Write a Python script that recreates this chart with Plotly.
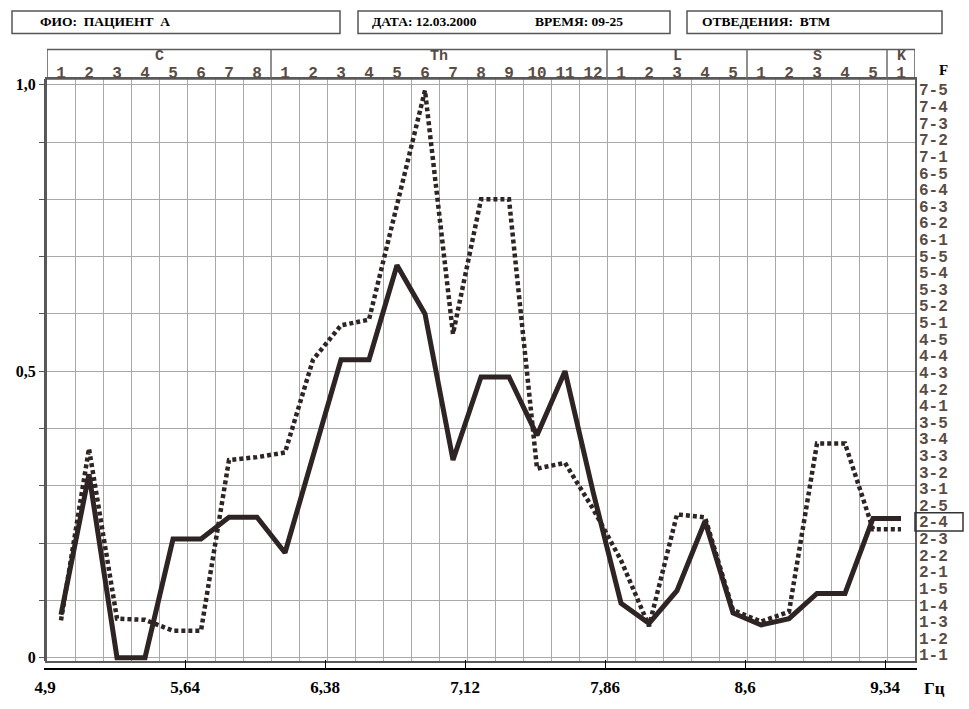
import plotly.graph_objects as go
import numpy as np

# ---------------- data ----------------
sections = ["C", "Th", "L", "S", "K"]
section_sizes = [8, 12, 5, 5, 1]
column_labels = [str(i) for n in section_sizes for i in range(1, n + 1)]

solid_values = [0.075, 0.32, 0.0, 0.0, 0.207, 0.207, 0.245, 0.245, 0.183, 0.35,
                0.52, 0.52, 0.685, 0.60, 0.345, 0.49, 0.49, 0.388, 0.50, 0.29,
                0.095, 0.06, 0.117, 0.238, 0.078, 0.057, 0.068, 0.112, 0.112, 0.243, 0.243]
dotted_values = [0.065, 0.365, 0.068, 0.066, 0.047, 0.047, 0.345, 0.35, 0.358, 0.52,
                 0.58, 0.59, 0.79, 0.99, 0.565, 0.80, 0.80, 0.33, 0.34, 0.26,
                 0.17, 0.055, 0.25, 0.245, 0.083, 0.063, 0.08, 0.374, 0.374, 0.224, 0.224]

hz_ticks = [4.9, 5.64, 6.38, 7.12, 7.86, 8.6, 9.34]
hz_labels = ["4,9", "5,64", "6,38", "7,12", "7,86", "8,6", "9,34"]
left_ticks = [round(0.1 * i, 1) for i in range(11)]
left_labels = ["0", "", "", "", "", "0,5", "", "", "", "", "1,0"]
right_labels = [f"{a}-{b}" for a in range(1, 8) for b in range(1, 6)]
highlight_label = "2-4"

header_texts = ["ФИО:  ПАЦИЕНТ  А", "ДАТА: 12.03.2000", "ВРЕМЯ: 09-25", "ОТВЕДЕНИЯ:  ВТМ"]

# ---------------- geometry helpers ----------------
W, H = 969, 709
ML, MR, MT, MB = 44, 52, 79, 33
PW, PH = W - ML - MR, H - MT - MB
def px(xp):
    return (xp - ML) / PW
def py(yp):
    return (H - MB - yp) / PH

X_LEFT = 4.9106
COL_W = 0.148
n_cols = len(column_labels)
X_RIGHT = X_LEFT + COL_W * n_cols
col_centers = [X_LEFT + COL_W * (i + 0.5) for i in range(n_cols)]
Y_RANGE = [-0.006, 1.01]
Y_DOM0 = py(669)
right_pos = list(np.linspace(0.005, 0.991, len(right_labels)))

ink = "#2e2424"
label_col = "#5a4c44"
grid_col = "#a9a9a9"
mono = "Liberation Mono"
serif = "Liberation Serif"

fig = go.Figure()
fig.add_trace(go.Scatter(x=col_centers, y=dotted_values, mode="lines",
                         line=dict(color=ink, width=4.5, dash="4px,3px"),
                         xaxis="x", yaxis="y", hoverinfo="skip", showlegend=False))
fig.add_trace(go.Scatter(x=col_centers, y=solid_values, mode="lines",
                         line=dict(color=ink, width=5),
                         xaxis="x", yaxis="y", hoverinfo="skip", showlegend=False))
# carrier traces so that the auxiliary axes are drawn
fig.add_trace(go.Scatter(x=hz_ticks, y=[None] * len(hz_ticks), mode="lines",
                         xaxis="x2", yaxis="y4", hoverinfo="skip", showlegend=False))
fig.add_trace(go.Scatter(x=col_centers, y=[None] * n_cols, mode="lines",
                         xaxis="x3", yaxis="y", hoverinfo="skip", showlegend=False))
fig.add_trace(go.Scatter(x=col_centers, y=[None] * n_cols, mode="lines",
                         xaxis="x", yaxis="y2", hoverinfo="skip", showlegend=False))
fig.add_trace(go.Scatter(x=col_centers, y=[None] * n_cols, mode="lines",
                         xaxis="x", yaxis="y3", hoverinfo="skip", showlegend=False))

x_rng2 = [4.9 - 1 / 189.19, 4.9 + 872 / 189.19]

fig.update_layout(
    width=W, height=H,
    margin=dict(l=ML, r=MR, t=MT, b=MB, pad=0),
    paper_bgcolor="white", plot_bgcolor="rgba(0,0,0,0)",
    xaxis=dict(range=[X_LEFT, X_RIGHT], domain=[px(47), px(915)],
               tick0=X_LEFT, dtick=COL_W, showgrid=True, gridcolor=grid_col, gridwidth=1,
               showticklabels=False, ticks="", zeroline=False,
               showline=True, mirror=True, linecolor="#5a5a5a", linewidth=1.5),
    yaxis=dict(range=Y_RANGE, domain=[Y_DOM0, 1], tick0=0, dtick=0.1,
               showgrid=True, gridcolor=grid_col, gridwidth=1,
               showticklabels=False, ticks="", zeroline=False,
               showline=True, mirror=True, linecolor="#5a5a5a", linewidth=1.5),
    xaxis2=dict(range=x_rng2, domain=[0, 1], anchor="y4",
                tickmode="array", tickvals=hz_ticks, ticktext=hz_labels,
                ticks="inside", ticklen=8, tickwidth=1, tickcolor="black",
                showline=True, linecolor="black", linewidth=1.5, showgrid=False, zeroline=False,
                ticklabelstandoff=3,
                tickfont=dict(family=serif, size=17, color="black", weight="bold")),
    yaxis4=dict(domain=[0, 1], range=[0, 1], visible=False, showgrid=False),
    xaxis3=dict(overlaying="x", side="top", anchor="y", range=[X_LEFT, X_RIGHT],
                tickmode="array", tickvals=col_centers, ticktext=column_labels,
                ticks="", showgrid=False, showline=False, zeroline=False,
                ticklabelstandoff=-3,
                tickfont=dict(family=mono, size=16, color=label_col, weight="bold")),
    yaxis2=dict(overlaying="y", anchor="free", position=0, side="left", range=Y_RANGE,
                tickmode="array", tickvals=left_ticks, ticktext=left_labels,
                ticks="outside", ticklen=5, tickcolor="#555", showgrid=False, zeroline=False,
                showline=True, linecolor="#555", linewidth=1.2,
                tickfont=dict(family=serif, size=16, color="black", weight="bold")),
    yaxis3=dict(overlaying="y", anchor="x", side="right", range=Y_RANGE,
                tickmode="array", tickvals=right_pos,
                ticktext=right_labels, ticks="", showgrid=False, zeroline=False,
                ticklabelstandoff=3,
                tickfont=dict(family=mono, size=16, color=label_col, weight="bold")),
)

shapes = []
# header band above the plot
shapes.append(dict(type="rect", xref="x", yref="paper", x0=X_LEFT, x1=X_RIGHT,
                   y0=1, y1=py(49), line=dict(color="#5a5a5a", width=1.5)))
bounds = np.cumsum(section_sizes)[:-1]
for b in bounds:
    xb = X_LEFT + COL_W * b
    shapes.append(dict(type="line", xref="x", yref="paper", x0=xb, x1=xb,
                       y0=1, y1=py(49), line=dict(color="#6a6a6a", width=1.5)))
# highlighted right label box
idx = right_labels.index(highlight_label)
yv = right_pos[idx]
shapes.append(dict(type="rect", xref="paper", yref="y", x0=px(915), x1=px(963),
                   y0=yv - 0.016, y1=yv + 0.016, line=dict(color="#333", width=1.5)))
# header info boxes
for x0, x1 in [(12, 340), (358, 670), (687, 942)]:
    shapes.append(dict(type="rect", xref="paper", yref="paper", x0=px(x0), x1=px(x1),
                       y0=py(33), y1=py(10), line=dict(color="#555", width=1.5)))
fig.update_layout(shapes=shapes)

ann = []
start = 0
for name, n in zip(sections, section_sizes):
    xc = X_LEFT + COL_W * (start + n / 2)
    ann.append(dict(x=xc, y=py(56), xref="x", yref="paper", text=name, showarrow=False,
                    xanchor="center", yanchor="middle",
                    font=dict(family=mono, size=15, color=label_col, weight="bold")))
    start += n
for text, xp in zip(header_texts, [38, 370, 533, 700]):
    ann.append(dict(x=px(xp), y=py(21), xref="paper", yref="paper", text=text,
                    showarrow=False, xanchor="left", yanchor="middle",
                    font=dict(family=serif, size=13.5, color="black", weight="bold")))
ann.append(dict(x=px(944), y=py(70), xref="paper", yref="paper", text="F", showarrow=False,
                xanchor="center", yanchor="middle",
                font=dict(family=serif, size=15, color="black", weight="bold")))
ann.append(dict(x=px(922), y=py(697), xref="paper", yref="paper", text="Гц", showarrow=False,
                xanchor="left", yanchor="middle",
                font=dict(family=serif, size=17, color="black", weight="bold")))
fig.update_layout(annotations=ann)

fig.write_html("out.html", config={"displayModeBar": False},
               post_script="document.body.style.margin='0';")
